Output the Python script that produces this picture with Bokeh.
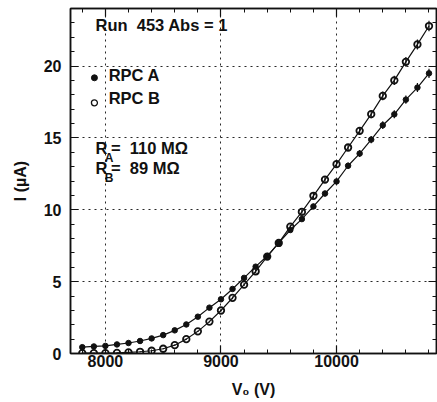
from bokeh.plotting import figure
from bokeh.models import (Range1d, LinearAxis, SingleIntervalTicker, Label,
                          ColumnDataSource, CustomJSTickFormatter, Grid)
from bokeh.embed import file_html
from bokeh.resources import INLINE

# ---- data ----
volts = [7800, 7900, 8000, 8100, 8200, 8300, 8400, 8500, 8600, 8700, 8800,
         8900, 9000, 9100, 9200, 9300, 9400, 9500, 9600, 9700, 9800,
         9900, 10000, 10100, 10200, 10300, 10400, 10500, 10600, 10700, 10800]

current_a = [0.44, 0.49, 0.53, 0.63, 0.73, 0.87, 1.05, 1.28, 1.61, 2.02, 2.56,
             3.19, 3.77, 4.49, 5.26, 6.04, 6.78, 7.69, 8.59, 9.35, 10.23,
             11.13, 11.97, 13.06, 13.91, 14.88, 15.88, 16.64, 17.66, 18.50, 19.49]
err_a = [0.04, 0.04, 0.04, 0.04, 0.04, 0.04, 0.05, 0.05, 0.05, 0.06, 0.07,
         0.08, 0.09, 0.10, 0.11, 0.12, 0.13, 0.15, 0.16, 0.17, 0.18,
         0.20, 0.21, 0.23, 0.24, 0.25, 0.27, 0.28, 0.29, 0.31, 0.32]

current_b = [0.03, 0.03, 0.03, 0.04, 0.08, 0.12, 0.19, 0.33, 0.58, 1.00, 1.54,
             2.22, 2.99, 3.87, 4.79, 5.72, 6.74, 7.69, 8.82, 9.85, 10.97,
             12.10, 13.17, 14.33, 15.49, 16.65, 17.92, 19.00, 20.29, 21.50, 22.78]
err_b = [0.03, 0.03, 0.03, 0.03, 0.03, 0.03, 0.03, 0.04, 0.04, 0.05, 0.05,
         0.06, 0.07, 0.09, 0.10, 0.12, 0.13, 0.15, 0.16, 0.18, 0.19,
         0.21, 0.23, 0.25, 0.26, 0.28, 0.30, 0.32, 0.34, 0.35, 0.37]

NB = "\u00a0"
run_text = "Run" + NB + NB + "453 Abs = 1"
series_names = ["RPC A", "RPC B"]
res_names = ["A", "B"]
res_values = ["=" + NB + NB + "110 M\u03a9", "=" + NB + NB + "89 M\u03a9"]
x_title = "V\u2080 (V)"
y_title = "I (\u00b5A)"

FONT = "Liberation Sans"
INK = "#111111"

src_a = ColumnDataSource(dict(x=volts, y=current_a,
                              lo=[v - e for v, e in zip(current_a, err_a)],
                              hi=[v + e for v, e in zip(current_a, err_a)]))
src_b = ColumnDataSource(dict(x=volts, y=current_b,
                              lo=[v - e for v, e in zip(current_b, err_b)],
                              hi=[v + e for v, e in zip(current_b, err_b)]))

xt = SingleIntervalTicker(interval=1000, num_minor_ticks=5)
yt = SingleIntervalTicker(interval=5, num_minor_ticks=5)

p = figure(width=437, height=402, output_backend="svg", toolbar_location=None,
           x_range=Range1d(7698, 10865), y_range=Range1d(0, 24),
           x_axis_location=None, y_axis_location=None,
           min_border_left=70, min_border_right=1, min_border_top=8,
           min_border_bottom=49)
p.background_fill_color = "white"
p.border_fill_color = "white"
p.outline_line_color = INK
p.outline_line_width = 1.5
p.renderers = []
p.center = []

bottom_ax = LinearAxis(ticker=xt)
left_ax = LinearAxis(ticker=yt)
top_ax = LinearAxis(ticker=xt, formatter=CustomJSTickFormatter(code="return ''"))
right_ax = LinearAxis(ticker=yt, formatter=CustomJSTickFormatter(code="return ''"))
p.add_layout(bottom_ax, "below")
p.add_layout(left_ax, "left")
p.add_layout(top_ax, "above")
p.add_layout(right_ax, "right")

for ax in [bottom_ax, left_ax, top_ax, right_ax]:
    ax.axis_line_color = INK
    ax.axis_line_width = 1.5
    ax.major_tick_line_color = INK
    ax.minor_tick_line_color = INK
    ax.major_tick_line_width = 1.2
    ax.minor_tick_line_width = 1.0
    ax.major_tick_in = 8
    ax.major_tick_out = 0
    ax.minor_tick_in = 4
    ax.minor_tick_out = 0
    ax.major_label_text_font = FONT
    ax.major_label_text_font_style = "bold"
    ax.major_label_text_font_size = "16px"
    ax.major_label_text_color = INK
    ax.axis_label_text_font = FONT
    ax.axis_label_text_font_style = "bold"
    ax.axis_label_text_font_size = "16px"
    ax.axis_label_text_color = INK

for ax in [top_ax, right_ax]:
    ax.major_label_standoff = 0

left_ax.major_label_standoff = 9
left_ax.axis_label = y_title
left_ax.axis_label_standoff = 12
bottom_ax.major_label_standoff = 1
bottom_ax.axis_label = x_title
bottom_ax.axis_label_standoff = 11

gx = Grid(dimension=0, ticker=xt)
gy = Grid(dimension=1, ticker=yt)
for g in (gx, gy):
    g.grid_line_color = INK
    g.grid_line_dash = "dotted"
    g.grid_line_width = 1
    g.grid_line_alpha = 0.9
    p.add_layout(g, "center")

# curves
p.line("x", "y", source=src_a, line_color=INK, line_width=1.2)
p.line("x", "y", source=src_b, line_color=INK, line_width=1.2)
p.segment(x0="x", y0="lo", x1="x", y1="hi", source=src_a, line_color=INK, line_width=1.2)
p.segment(x0="x", y0="lo", x1="x", y1="hi", source=src_b, line_color=INK, line_width=1.2)
p.scatter("x", "y", source=src_a, marker="circle", size=5.5,
          fill_color=INK, line_color=INK)
p.scatter("x", "y", source=src_b, marker="circle", size=6.5,
          fill_alpha=0, line_color=INK, line_width=1.8)

def lab(x, y, text, size="16.5px", **kw):
    l = Label(x=x, y=y, text=text, text_font=FONT, text_font_style="bold",
              text_font_size=size, text_color=INK, **kw)
    p.add_layout(l)
    return l

# annotations
lab(7914, 22.26, run_text)
p.scatter([7905], [19.18], marker="circle", size=6, fill_color=INK, line_color=INK)
p.scatter([7905], [17.44], marker="circle", size=6, fill_alpha=0,
          line_color=INK, line_width=1.3)
lab(8028, 18.78, series_names[0])
lab(8028, 17.16, series_names[1])

lab(7914, 13.70, "R")
lab(7995, 13.13, res_names[0], size="12px")
lab(8048, 13.70, res_values[0])
lab(7914, 12.26, "R")
lab(7995, 11.69, res_names[1], size="12px")
lab(8048, 12.26, res_values[1])

open("out.html", "w").write(file_html(p, INLINE))
